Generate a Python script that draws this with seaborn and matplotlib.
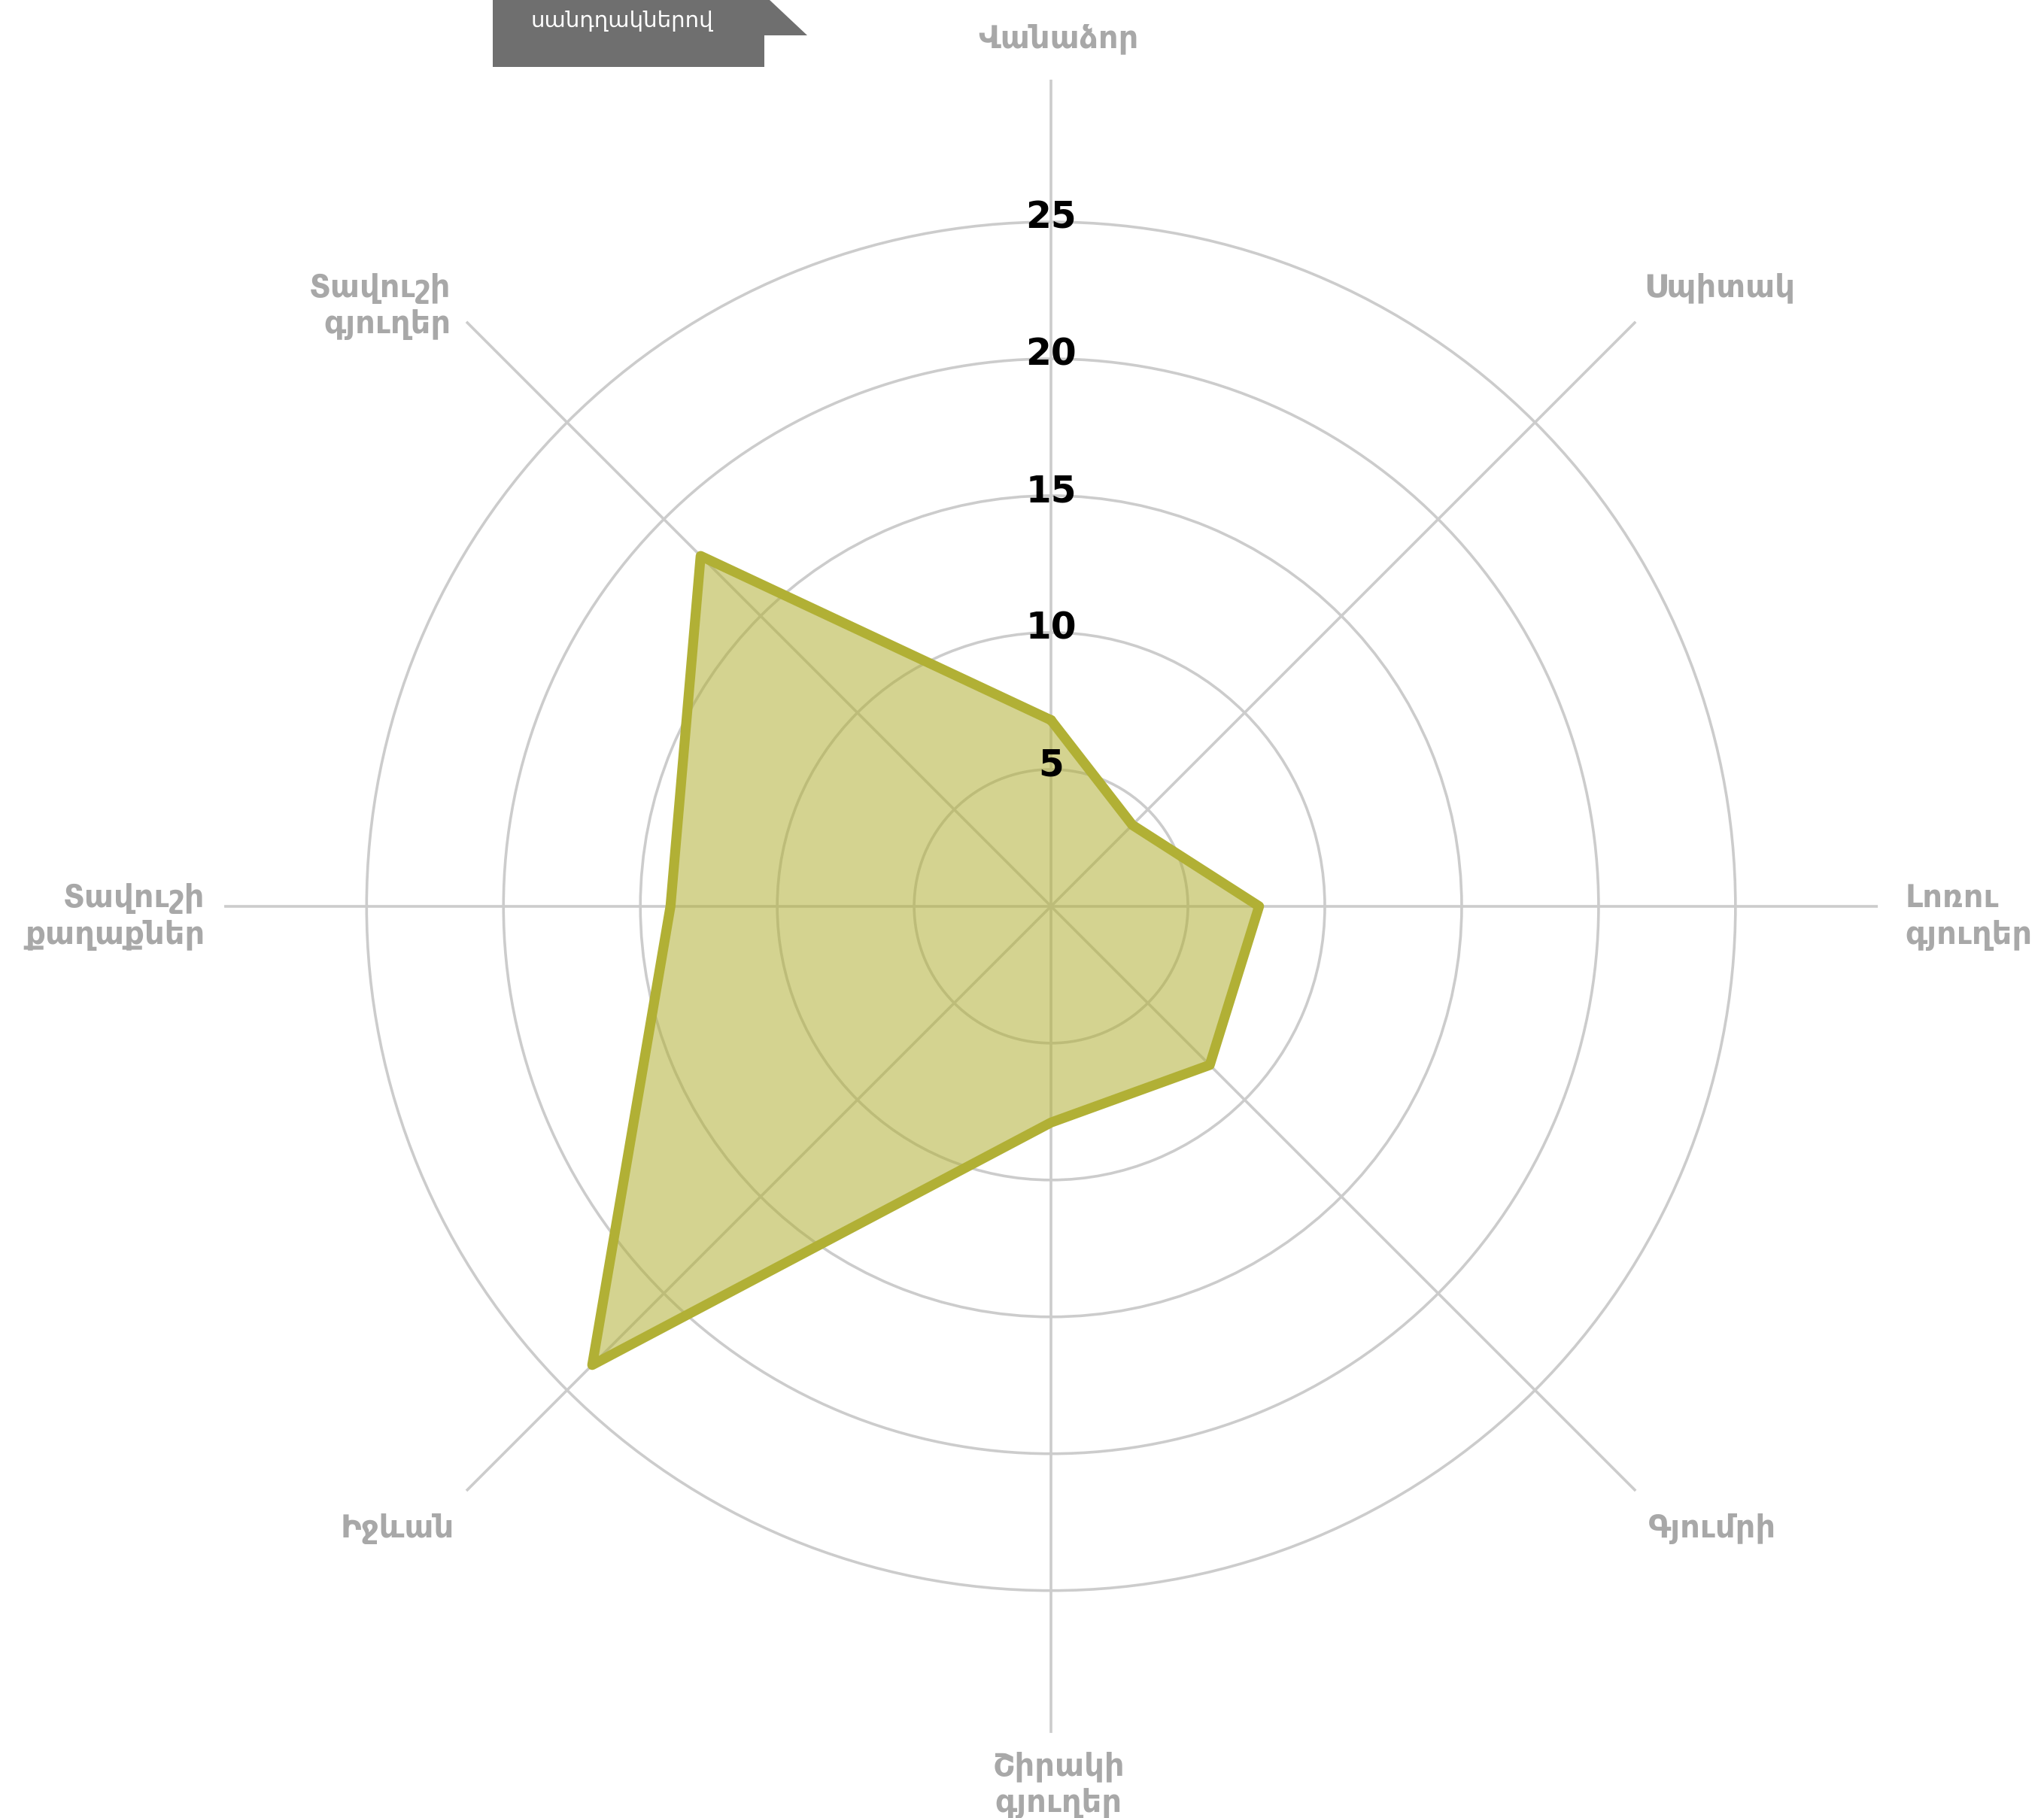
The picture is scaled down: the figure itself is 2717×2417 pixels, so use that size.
import numpy as np
import pandas as pd
import matplotlib
matplotlib.use("Agg")
import matplotlib.pyplot as plt
from matplotlib.patches import Polygon
import seaborn as sns

# categories clockwise from the top
categories = ["Վանաձոր", "Սպիտակ", "Լոռու\nգյուղեր", "Գյումրի",
              "Շիրակի\nգյուղեր", "Իջևան", "Տավուշի\nքաղաքներ", "Տավուշի\nգյուղեր"]
values = [6.8, 4.2, 7.6, 8.2, 7.9, 23.7, 13.9, 18.1]
rings = [5, 10, 15, 20, 25]
header_text = "սանդղակներով"

line_color = "#b1b035"
fill_color = "#b1b035"
grid_color = "#cccccc"
label_color = "#a8a8a8"

sns.set_theme(style="white")
plt.rcParams['font.family'] = ['DejaVu Sans']

W, H = 2717, 2417
fig = plt.figure(figsize=(W / 100, H / 100), dpi=100)
ax = fig.add_axes([0.1097, 0.0468, 0.809, 0.9094], projection="polar")
ax.set_theta_offset(np.pi / 2)
ax.set_theta_direction(-1)

n = len(categories)
angles = np.linspace(0, 2 * np.pi, n, endpoint=False)
df = pd.DataFrame({"angle": np.append(angles, 2 * np.pi),
                   "value": values + values[:1]})

ax.fill(df["angle"], df["value"], color=fill_color, alpha=0.55, zorder=2)
sns.lineplot(data=df, x="angle", y="value", sort=False, ax=ax,
             color=line_color, linewidth=9.5, zorder=3)

ax.set_ylim(0, 30.2)
ax.set_xticks(angles)
ax.set_xticklabels([])
ax.set_yticks(rings)
ax.set_yticklabels([])
ax.set_xlabel("")
ax.set_ylabel("")
ax.grid(True, color=grid_color, linewidth=2.6)
ax.spines["polar"].set_visible(False)
ax.set_facecolor("none")

# radial value labels along the top spoke
for r in rings:
    ax.text(0, r + 0.15, str(r), ha="center", va="center", fontsize=35,
            fontweight="bold", color="black", zorder=4)

# category labels: (angle deg, radius, ha, multialignment)
label_pos = [
    (0.5, 31.7, "center", "center"),
    (43.8, 31.3, "left", "left"),
    (90.7, 31.2, "left", "left"),
    (136.2, 31.5, "left", "left"),
    (179.5, 32.1, "center", "center"),
    (223.8, 31.5, "right", "right"),
    (269.3, 30.9, "right", "right"),
    (-45.0, 31.0, "right", "right"),
]
for lab, (deg, r, ha, ma) in zip(categories, label_pos):
    ax.text(np.deg2rad(deg), r, lab, ha=ha, va="center", multialignment=ma,
            fontsize=30, fontweight="bold", color=label_color,
            linespacing=1.2, clip_on=False)

# header tab in the top-left corner
pts = [(655, 0), (1023, 0), (1073, 47), (1016, 47), (1016, 89), (655, 89)]
pts = [(x / W, 1 - y / H) for x, y in pts]
fig.patches.append(Polygon(pts, closed=True, transform=fig.transFigure,
                           facecolor="#6f6f6f", edgecolor="none"))
fig.text(706 / W, 1 - 28 / H, header_text, ha="left", va="center",
         fontsize=21, color="white")

fig.savefig("out.png", dpi=100)
